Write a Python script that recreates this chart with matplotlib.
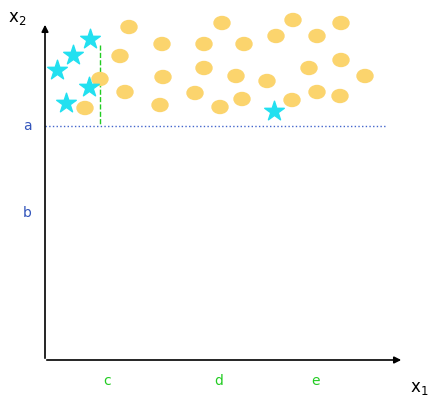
import matplotlib.pyplot as plt
from matplotlib.patches import Ellipse

# positions in picture units (origin top-left)
star_x = [90, 73, 57, 89, 66, 274]
star_y = [39, 55, 70, 87, 103, 111]
circ_x = [129, 120, 100, 125, 85, 162, 163, 160, 204, 204, 195, 220, 222, 244, 236, 242,
          267, 276, 293, 317, 309, 292, 341, 341, 317, 340, 365]
circ_y = [27, 56, 79, 92, 108, 44, 77, 105, 44, 68, 93, 107, 23, 44, 76, 99,
          81, 36, 20, 36, 68, 100, 23, 60, 92, 96, 76]
y_labels = ['a', 'b']
y_label_pos = [126, 213]
x_labels = ['c', 'd', 'e']
x_label_pos = [107, 219, 316]

fig = plt.figure(figsize=(4.41, 4.09), dpi=100)
ax = fig.add_axes([0, 0, 1, 1])
ax.set_xlim(0, 441)
ax.set_ylim(409, 0)
ax.axis('off')

# axes arrows
ax.annotate('', xy=(45, 22), xytext=(45, 361),
            arrowprops=dict(arrowstyle='-|>', color='black', lw=1.2, mutation_scale=10))
ax.annotate('', xy=(404, 360), xytext=(44, 360),
            arrowprops=dict(arrowstyle='-|>', color='black', lw=1.2, mutation_scale=10))
ax.text(8, 18, r'x$_2$', fontsize=12, va='center')
ax.text(410, 388, r'x$_1$', fontsize=12, va='center')

ax.plot([45, 385], [126, 126], ls=':', color='#4466cc', lw=1)
ax.plot([100, 100], [45, 126], ls='--', color='#22cc22', lw=1)

for x, y in zip(circ_x, circ_y):
    ax.add_patch(Ellipse((x, y), 16, 13, color='#fbd46d', zorder=3))
ax.scatter(star_x, star_y, marker='*', s=220, color='#22e0f0', zorder=4)

for lab, y in zip(y_labels, y_label_pos):
    ax.text(27, y, lab, color='#3355bb', fontsize=10, ha='center', va='center')
for lab, x in zip(x_labels, x_label_pos):
    ax.text(x, 381, lab, color='#22cc22', fontsize=10, ha='center', va='center')

fig.savefig('out.png', dpi=100)
